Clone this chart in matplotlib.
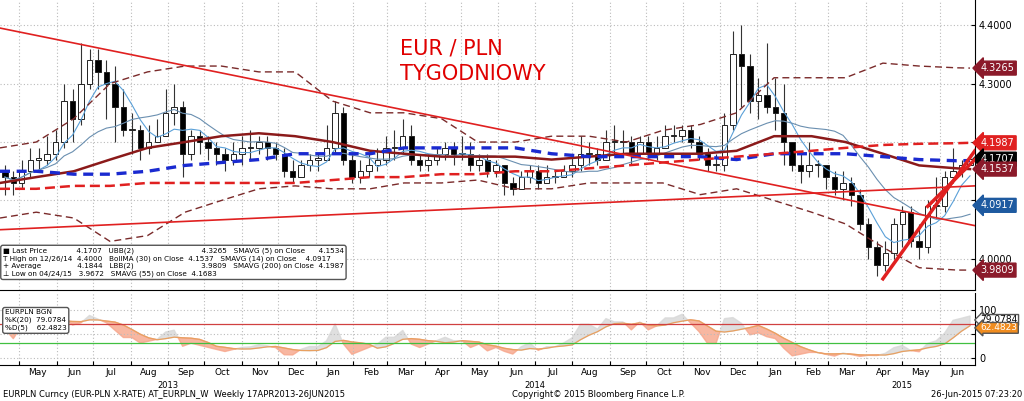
import numpy as np
import pandas as pd
import matplotlib.pyplot as plt
import matplotlib.dates as mdates

# weekly EUR/PLN candles, Apr 2013 - Jun 2015
closes = [4.14, 4.13,
          4.15, 4.17, 4.17, 4.18, 4.20,
          4.27, 4.24, 4.30, 4.34,
          4.32, 4.30, 4.26, 4.22,
          4.22, 4.19, 4.20, 4.21, 4.25,
          4.26, 4.18, 4.21, 4.20,
          4.19, 4.18, 4.17, 4.18,
          4.19, 4.19, 4.20, 4.19, 4.18,
          4.15, 4.14, 4.16, 4.17,
          4.17, 4.19, 4.25, 4.17, 4.14,
          4.15, 4.16, 4.17, 4.19,
          4.19, 4.21, 4.17, 4.16,
          4.17, 4.18, 4.19, 4.18,
          4.18, 4.16, 4.17, 4.15, 4.16,
          4.13, 4.12, 4.14, 4.15,
          4.13, 4.14, 4.14, 4.15,
          4.16, 4.18, 4.18, 4.17, 4.20,
          4.20, 4.20, 4.18, 4.20,
          4.18, 4.19, 4.21, 4.21, 4.22,
          4.20, 4.18, 4.16, 4.16,
          4.23, 4.35, 4.33, 4.27,
          4.28, 4.26, 4.25, 4.20, 4.16,
          4.15, 4.16, 4.16, 4.14,
          4.12, 4.13, 4.11, 4.06,
          4.02, 3.99, 4.01, 4.06,
          4.08, 4.03, 4.02, 4.09, 4.09,
          4.14, 4.15, 4.16, 4.1707]
highs = [4.16, 4.15,
         4.17, 4.19, 4.19, 4.21, 4.22,
         4.30, 4.29, 4.37, 4.36,
         4.36, 4.34, 4.33, 4.29,
         4.25, 4.23, 4.23, 4.24, 4.29,
         4.30, 4.27, 4.22, 4.22,
         4.21, 4.20, 4.19, 4.20,
         4.21, 4.22, 4.21, 4.21, 4.20,
         4.19, 4.17, 4.17, 4.18,
         4.18, 4.23, 4.27, 4.26, 4.18,
         4.17, 4.18, 4.19, 4.21,
         4.22, 4.24, 4.23, 4.18,
         4.18, 4.19, 4.20, 4.20,
         4.21, 4.20, 4.18, 4.18, 4.17,
         4.16, 4.14, 4.15, 4.16,
         4.16, 4.16, 4.15, 4.16,
         4.18, 4.21, 4.20, 4.19, 4.22,
         4.23, 4.22, 4.21, 4.21,
         4.21, 4.21, 4.23, 4.23, 4.23,
         4.23, 4.21, 4.19, 4.18,
         4.25, 4.39, 4.40, 4.35,
         4.31, 4.37, 4.31, 4.30, 4.20,
         4.18, 4.20, 4.17, 4.16,
         4.15, 4.15, 4.14, 4.12,
         4.07, 4.03, 4.03, 4.07,
         4.09, 4.09, 4.06, 4.10, 4.14,
         4.15, 4.19, 4.17, 4.18]
lows = [4.11, 4.11,
        4.12, 4.14, 4.15, 4.16, 4.17,
        4.19, 4.20, 4.23, 4.29,
        4.29, 4.24, 4.20, 4.21,
        4.18, 4.17, 4.18, 4.20, 4.21,
        4.23, 4.14, 4.17, 4.18,
        4.17, 4.16, 4.15, 4.16,
        4.16, 4.17, 4.18, 4.17, 4.17,
        4.14, 4.13, 4.14, 4.15,
        4.15, 4.17, 4.18, 4.16, 4.13,
        4.13, 4.14, 4.15, 4.16,
        4.17, 4.18, 4.16, 4.15,
        4.15, 4.16, 4.17, 4.16,
        4.17, 4.15, 4.15, 4.14, 4.14,
        4.11, 4.11, 4.12, 4.13,
        4.12, 4.13, 4.13, 4.14,
        4.14, 4.15, 4.16, 4.16, 4.17,
        4.18, 4.18, 4.16, 4.18,
        4.17, 4.17, 4.19, 4.20, 4.20,
        4.19, 4.17, 4.15, 4.15,
        4.15, 4.22, 4.26, 4.25,
        4.24, 4.25, 4.22, 4.16, 4.15,
        4.13, 4.14, 4.14, 4.12,
        4.11, 4.10, 4.09, 4.05,
        4.00, 3.97, 3.98, 4.00,
        4.02, 4.02, 4.00, 4.01, 4.07,
        4.08, 4.13, 4.14, 4.16]

# monthly readings (mid-month, plus the last week) of the band / long average lines
months = list(pd.date_range("2013-04-01", periods=27, freq="MS") + pd.Timedelta(days=14))
months.append(pd.Timestamp("2015-06-26"))
boll_ma = [4.13, 4.14, 4.15, 4.17, 4.19, 4.20, 4.21, 4.215, 4.21, 4.20, 4.185, 4.18, 4.175, 4.175,
           4.175, 4.17, 4.175, 4.18, 4.18, 4.18, 4.185, 4.21, 4.21, 4.20, 4.18, 4.16, 4.155, 4.1537]
ubb = [4.19, 4.20, 4.24, 4.30, 4.32, 4.33, 4.33, 4.32, 4.32, 4.27, 4.25, 4.25, 4.24, 4.20,
       4.20, 4.21, 4.21, 4.20, 4.22, 4.23, 4.25, 4.31, 4.31, 4.31, 4.335, 4.33, 4.327, 4.3265]
lbb = [4.07, 4.08, 4.07, 4.03, 4.04, 4.08, 4.10, 4.12, 4.125, 4.12, 4.12, 4.13, 4.13, 4.135,
       4.12, 4.12, 4.13, 4.13, 4.13, 4.11, 4.12, 4.10, 4.08, 4.06, 4.02, 3.985, 3.981, 3.9809]
sma55 = [4.15, 4.15, 4.145, 4.145, 4.15, 4.16, 4.165, 4.17, 4.18, 4.18, 4.18, 4.19, 4.19, 4.19,
         4.19, 4.18, 4.175, 4.175, 4.175, 4.175, 4.17, 4.18, 4.18, 4.18, 4.175, 4.17, 4.168, 4.1683]
sma200 = [4.12, 4.12, 4.125, 4.125, 4.13, 4.13, 4.13, 4.13, 4.13, 4.135, 4.14, 4.14, 4.145, 4.145,
          4.15, 4.15, 4.155, 4.16, 4.165, 4.17, 4.175, 4.18, 4.185, 4.19, 4.195, 4.197, 4.198, 4.1987]

# hand-drawn trend lines: (start date, start price, end date, end price, width)
trends = [("2013-04-15", 4.395, "2015-06-30", 4.057, 1.2),
          ("2013-04-15", 4.050, "2015-06-30", 4.125, 1.2),
          ("2015-04-15", 3.966, "2015-06-30", 4.185, 2.5),
          ("2015-05-22", 4.090, "2015-06-30", 4.170, 2.5)]

month_labels = ["May", "Jun", "Jul", "Aug", "Sep", "Oct", "Nov", "Dec", "Jan", "Feb", "Mar", "Apr",
                "May", "Jun", "Jul", "Aug", "Sep", "Oct", "Nov", "Dec", "Jan", "Feb", "Mar", "Apr",
                "May", "Jun"]

dates = pd.date_range("2013-04-19", periods=len(closes), freq="7D")
df = pd.DataFrame({"c": closes, "h": highs, "l": lows}, index=dates)
df["o"] = df["c"].shift(1).fillna(4.15)
sma5 = df["c"].rolling(5, min_periods=1).mean()
sma14 = df["c"].rolling(14, min_periods=1).mean()
hh = df["h"].rolling(20, min_periods=1).max()
ll = df["l"].rolling(20, min_periods=1).min()
k = 100 * (df["c"] - ll) / (hh - ll)
d = k.rolling(5, min_periods=1).mean()

fig = plt.figure(figsize=(10.24, 4.01), dpi=100)
ax = fig.add_axes([0.0, 0.277, 0.952, 0.723])
ax2 = fig.add_axes([0.0, 0.09, 0.952, 0.18], sharex=ax)
xmin, xmax = pd.Timestamp("2013-04-15"), pd.Timestamp("2015-06-30")

for a in (ax, ax2):
    a.grid(True, color="#bbbbbb", linestyle=(0, (1, 2)), linewidth=0.8)
    a.yaxis.tick_right()
    a.tick_params(axis="y", labelsize=7, direction="in", length=3, pad=3)
    for s in ("top", "left"):
        a.spines[s].set_visible(False)

x = mdates.date2num(df.index)
up = df["c"] >= df["o"]
ax.vlines(x, df["l"], df["h"], color="#333333", linewidth=0.8, zorder=3)
body_lo = np.minimum(df["o"], df["c"])
body_h = np.maximum(np.abs(df["c"] - df["o"]), 0.002)
ax.bar(x, body_h, bottom=body_lo, width=4.5, color=np.where(up, "white", "black"),
       edgecolor="#222222", linewidth=0.7, zorder=4)

ax.plot(df.index, sma5, color="#5aa0d8", linewidth=0.8, zorder=5)
ax.plot(df.index, sma14, color="#6a8fb0", linewidth=0.8, zorder=5)
ax.plot(months, boll_ma, color="#8b1a1a", linewidth=1.8, zorder=5)
ax.plot(months, ubb, color="#7a2a2a", linewidth=1.0, linestyle=(0, (5, 3)), zorder=5)
ax.plot(months, lbb, color="#7a2a2a", linewidth=1.0, linestyle=(0, (5, 3)), zorder=5)
ax.plot(months, sma55, color="#1a2ad0", linewidth=2.4, linestyle=(0, (3, 2)), zorder=6)
ax.plot(months, sma200, color="#e02020", linewidth=1.8, linestyle=(0, (4, 2)), zorder=6)
for x0, y0, x1, y1, lw in trends:
    ax.plot([pd.Timestamp(x0), pd.Timestamp(x1)], [y0, y1], color="#e02020", linewidth=lw, zorder=7)

ax.set_xlim(xmin, xmax)
ax.set_ylim(3.947, 4.443)
ax.set_yticks([4.0, 4.1, 4.2, 4.3, 4.4])
ax.set_yticklabels(["4.0000", "", "", "4.3000", "4.4000"])
ax.text(0.41, 0.79, "EUR / PLN\nTYGODNIOWY", transform=ax.transAxes, color="#e00000",
        fontsize=15, linespacing=1.35, va="center")

tags = [(4.3265, "#8b1a2a", "white"), (4.1987, "#e02020", "white"), (4.1707, "black", "white"),
        (4.1537, "#8b1a2a", "white"), (4.0917, "#1e5aa0", "white"), (3.9809, "#8b1a2a", "white")]
for v, fc, tc in tags:
    ax.annotate(f"{v:.4f}", xy=(1.0, v), xycoords=("axes fraction", "data"), xytext=(4, 0),
                textcoords="offset points", va="center", ha="left", fontsize=7, color=tc,
                bbox=dict(boxstyle="larrow,pad=0.2", fc=fc, ec=fc))

leg = ("\u25a0 Last Price             4.1707   UBB(2)                              4.3265   SMAVG (5) on Close      4.1534\n"
       "T High on 12/26/14  4.4000   BollMA (30) on Close  4.1537   SMAVG (14) on Close    4.0917\n"
       "+ Average                4.1844   LBB(2)                              3.9809   SMAVG (200) on Close  4.1987\n"
       "\u22a5 Low on 04/24/15   3.9672   SMAVG (55) on Close  4.1683")
ax.text(0.003, 0.095, leg, transform=ax.transAxes, fontsize=5.2, va="center", ha="left",
        linespacing=1.25, bbox=dict(boxstyle="round,pad=0.3", fc="white", ec="#555555"), zorder=10)

# stochastic panel
ax2.fill_between(df.index, k, d, where=k >= d, color="#d8d8d8", alpha=0.8, interpolate=True)
ax2.fill_between(df.index, k, d, where=k < d, color="#f7a58a", alpha=0.8, interpolate=True)
ax2.plot(df.index, d, color="#e8a060", linewidth=0.9)
ax2.axhline(70, color="#d04040", linewidth=0.9)
ax2.axhline(30, color="#40c040", linewidth=0.9)
ax2.set_ylim(-15, 136)
ax2.set_yticks([0, 50, 100])
ax2.set_yticklabels(["0", "", "100"])
for v, fc, tc in [(79.0784, "white", "black"), (62.4823, "#f08c1e", "white")]:
    ax2.annotate(f"{v:.4f}", xy=(1.0, v), xycoords=("axes fraction", "data"), xytext=(4, 0),
                 textcoords="offset points", va="center", ha="left", fontsize=6.5, color=tc,
                 bbox=dict(boxstyle="larrow,pad=0.1", fc=fc, ec="#555555"))
ax2.text(0.005, 0.62, "EURPLN BGN\n%K(20)  79.0784\n%D(5)    62.4823", transform=ax2.transAxes,
         fontsize=5.2, va="center", linespacing=1.3,
         bbox=dict(boxstyle="round,pad=0.3", fc="white", ec="#555555"))

# month / year axis
ax.tick_params(axis="x", bottom=False, labelbottom=False)
ax2.xaxis.set_major_locator(mdates.MonthLocator())
ax2.xaxis.set_major_formatter(plt.NullFormatter())
ax2.tick_params(axis="x", direction="in", length=3)
mids = pd.date_range("2013-05-01", periods=len(month_labels), freq="MS") + pd.Timedelta(days=15)
for m, lab in zip(mids, month_labels):
    ax2.text(m, -0.04, lab, transform=ax2.get_xaxis_transform(), ha="center", va="top", fontsize=6.5)
for yr, dt in [("2013", "2013-09-01"), ("2014", "2014-07-01"), ("2015", "2015-05-01")]:
    ax2.text(pd.Timestamp(dt), -0.22, yr, transform=ax2.get_xaxis_transform(),
             ha="center", va="top", fontsize=6)

fig.text(0.003, 0.004, "EURPLN Curncy (EUR-PLN X-RATE) AT_EURPLN_W  Weekly 17APR2013-26JUN2015",
         fontsize=6, va="bottom")
fig.text(0.5, 0.004, "Copyright\u00a9 2015 Bloomberg Finance L.P.", fontsize=6, va="bottom")
fig.text(0.998, 0.004, "26-Jun-2015 07:23:20", fontsize=6, va="bottom", ha="right")

fig.savefig("out.png", dpi=100, facecolor="white")
